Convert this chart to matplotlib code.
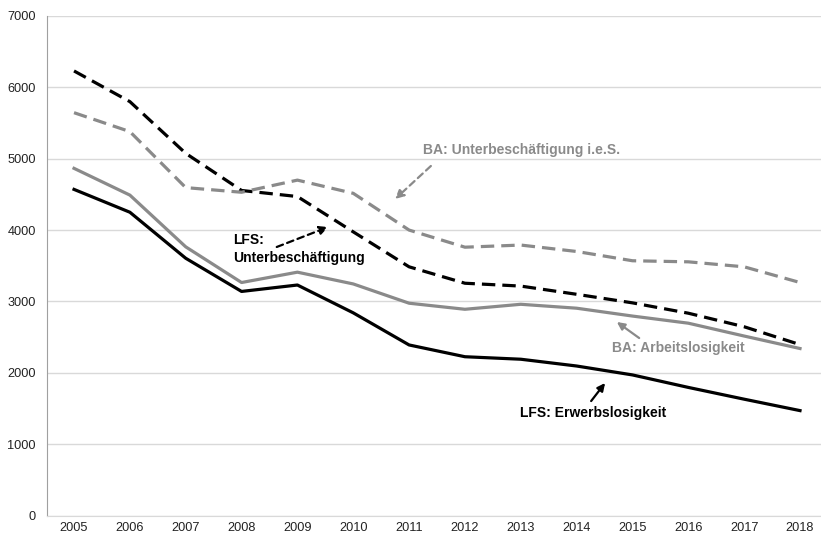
import matplotlib
matplotlib.use("Agg")
import matplotlib.pyplot as plt

plt.rcParams['font.family'] = ['Liberation Sans', 'DejaVu Sans']

years = list(range(2005, 2019))
lfs_erwerbslos = [4570, 4250, 3605, 3140, 3230, 2840, 2390, 2225, 2190, 2095, 1970, 1795, 1630, 1470]
ba_arbeitslos = [4865, 4490, 3765, 3265, 3410, 3245, 2975, 2890, 2960, 2905, 2795, 2695, 2515, 2340]
lfs_unterbesch = [6230, 5800, 5075, 4555, 4470, 3975, 3485, 3255, 3215, 3100, 2980, 2835, 2645, 2395]
ba_unterbesch = [5645, 5380, 4595, 4530, 4700, 4515, 4000, 3760, 3790, 3700, 3570, 3555, 3485, 3265]

BLACK = '#000000'
GREY = '#8a8a8a'

fig = plt.figure(figsize=(8.21, 5.34), dpi=100)
ax = fig.add_axes([47/821, 1 - 515.5/534, 1 - 47/821, (515.5 - 16)/534])

dash = (0, (4.2, 2.2))
ax.plot(years, lfs_erwerbslos, color=BLACK, lw=2.3, solid_joinstyle='round', zorder=3)
ax.plot(years, ba_arbeitslos, color=GREY, lw=2.3, solid_joinstyle='round', zorder=3)
ax.plot(years, lfs_unterbesch, color=BLACK, lw=2.3, ls=dash, zorder=3)
ax.plot(years, ba_unterbesch, color=GREY, lw=2.3, ls=dash, zorder=3)

ax.set_xlim(2004.516, 2018.376)
ax.set_ylim(0, 7000)
ax.set_xticks(years)
ax.set_xticklabels([str(y) for y in years])
ax.set_yticks(range(0, 7001, 1000))
ax.tick_params(axis='both', length=0, labelsize=9.2, colors='#222222')
ax.tick_params(axis='x', pad=4.5)
ax.tick_params(axis='y', pad=8)
ax.grid(axis='y', color='#d9d9d9', lw=1)
ax.set_axisbelow(True)
for s in ['top', 'right']:
    ax.spines[s].set_visible(False)
ax.spines['left'].set_color('#a0a0a0')
ax.spines['bottom'].set_color('#d9d9d9')

fs = 10
ax.text(2011.25, 5122, 'BA: Unterbeschäftigung i.e.S.', color=GREY, fontsize=fs,
        fontweight='bold', ha='left', va='center')
ax.annotate('', xy=(2010.75, 4435), xytext=(2011.39, 4898),
            arrowprops=dict(arrowstyle='-|>,head_length=0.5,head_width=0.25', color=GREY,
                            lw=1.6, ls=(0, (3, 2)), shrinkA=0, shrinkB=0))

ax.text(2007.85, 3735, 'LFS:\nUnterbeschäftigung', color=BLACK, fontsize=fs,
        fontweight='bold', ha='left', va='center', linespacing=1.3)
ax.annotate('', xy=(2009.55, 4043), xytext=(2008.63, 3763),
            arrowprops=dict(arrowstyle='-|>,head_length=0.5,head_width=0.25', color=BLACK,
                            lw=1.6, ls=(0, (3, 2)), shrinkA=0, shrinkB=0))

ax.text(2014.63, 2347, 'BA: Arbeitslosigkeit', color=GREY, fontsize=fs,
        fontweight='bold', ha='left', va='center')
ax.annotate('', xy=(2014.72, 2712), xytext=(2015.12, 2487),
            arrowprops=dict(arrowstyle='-|>,head_length=0.45,head_width=0.22', color=GREY,
                            lw=1.6, shrinkA=0, shrinkB=0))

ax.text(2012.99, 1436, 'LFS: Erwerbslosigkeit', color=BLACK, fontsize=fs,
        fontweight='bold', ha='left', va='center')
ax.annotate('', xy=(2014.51, 1857), xytext=(2014.26, 1604),
            arrowprops=dict(arrowstyle='-|>,head_length=0.45,head_width=0.22', color=BLACK,
                            lw=1.6, shrinkA=0, shrinkB=0))

fig.savefig('out.png', dpi=100)
